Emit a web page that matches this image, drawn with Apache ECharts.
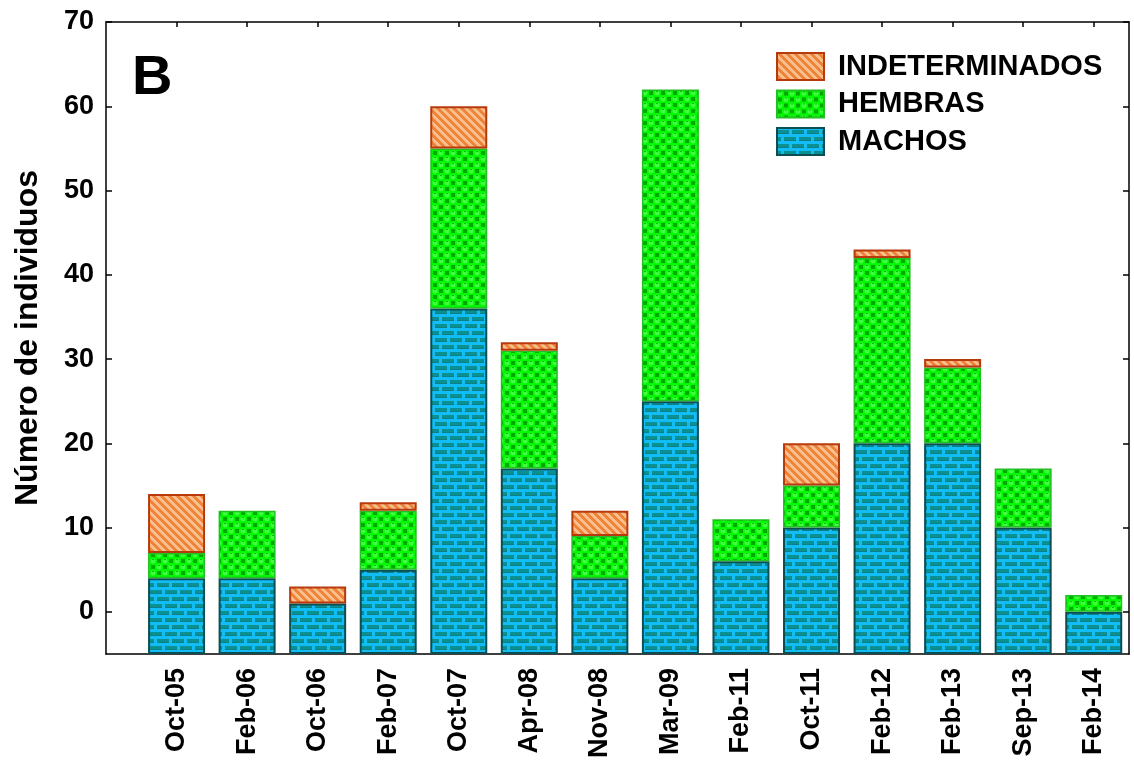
<!DOCTYPE html>
<html>
<head>
<meta charset="utf-8">
<script src="https://cdn.jsdelivr.net/npm/echarts@6/dist/echarts.min.js"></script>
<style>
  html, body { margin: 0; padding: 0; background: #fff; }
  #chart { width: 1134px; height: 763px; }
</style>
</head>
<body>
<div id="chart"></div>
<script>
// ---- data ----
const categories = ['Oct-05','Feb-06','Oct-06','Feb-07','Oct-07','Apr-08','Nov-08','Mar-09','Feb-11','Oct-11','Feb-12','Feb-13','Sep-13','Feb-14'];
const machos         = [4, 4, 1, 5, 36, 17, 4, 25, 6, 10, 20, 20, 10, 0];
const hembras        = [3, 8, 0, 7, 19, 14, 5, 37, 5, 5, 22, 9, 7, 2];
const indeterminados = [7, 0, 2, 1, 5, 1, 3, 0, 0, 5, 1, 1, 0, 0];
const yTickLabels = [0, 10, 20, 30, 40, 50, 60, 70];
const yAxisMin = -5;   // bars are drawn up from the bottom of the axis
const yAxisMax = 70;
const panelLabel = 'B';

// ---- fill patterns ----
function tile(w, h, draw) {
  const c = document.createElement('canvas');
  c.width = w; c.height = h;
  draw(c.getContext('2d'), w, h);
  return c;
}
const brickTile = tile(15, 14, (g) => {
  g.fillStyle = '#12BCF4'; g.fillRect(0, 0, 15, 14);
  g.fillStyle = '#0A9090';
  g.fillRect(0, 2, 12, 4);
  g.fillRect(7, 9, 8, 4); g.fillRect(0, 9, 4, 4);
  g.fillStyle = '#0C8088';
  g.fillRect(0, 5, 12, 1);
  g.fillRect(7, 12, 8, 1); g.fillRect(0, 12, 4, 1);
});
const greenTile = tile(12, 12, (g) => {
  g.fillStyle = '#00F800'; g.fillRect(0, 0, 12, 12);
  g.fillStyle = '#00A800';
  g.fillRect(7, 1, 4, 4); g.fillRect(1, 7, 4, 4);
  g.fillStyle = '#40FF40';
  g.beginPath(); g.arc(3, 3, 2.5, 0, Math.PI * 2); g.fill();
  g.beginPath(); g.arc(9, 9, 2.5, 0, Math.PI * 2); g.fill();
  g.fillStyle = '#00C400';
  g.fillRect(2, 1, 2, 1); g.fillRect(8, 7, 2, 1);
});
const stripeTile = tile(8, 8, (g) => {
  const img = g.createImageData(8, 8);
  for (let y = 0; y < 8; y++) for (let x = 0; x < 8; x++) {
    const k = ((x - y) % 8 + 8) % 8;
    const i = (y * 8 + x) * 4;
    const dark = k < 4;
    img.data[i] = dark ? 0xEE : 0xF8;
    img.data[i + 1] = dark ? 0x84 : 0xBE;
    img.data[i + 2] = dark ? 0x3A : 0x8E;
    img.data[i + 3] = 255;
  }
  g.putImageData(img, 0, 0);
});

// ---- category slots: half-step slots so the first bar sits one step in from the axis
//      and the axis ends half a step after the last bar ----
const slotsPerCat = 2;
const slotCount = (categories.length + 0.5) * slotsPerCat + 1;
const slots = [];
for (let i = 0; i < slotCount; i++) {
  const k = i / slotsPerCat - 1;
  slots.push(Number.isInteger(k) && k >= 0 && k < categories.length ? categories[k] : '');
}
const offset = -yAxisMin;
function toSlots(arr, shift, hideZero) {
  return slots.map((s) => {
    if (s === '') return '-';
    const v = arr[categories.indexOf(s)];
    return (hideZero && v === 0) ? '-' : v + shift;
  });
}
const isReal = (index, value) => value !== '';

const fontFam = '"Liberation Sans", Arial, sans-serif';
const chart = echarts.init(document.getElementById('chart'), null, { renderer: 'canvas' });
const yTickPos = yTickLabels.map(v => v + offset);
const axisLineStyle = { color: '#000', width: 1.5 };

const option = {
  animation: false,
  backgroundColor: '#ffffff',
  grid: { left: 106, right: 5, top: 22, bottom: 109, containLabel: false, outerBoundsMode: 'none' },
  legend: {
    orient: 'vertical',
    left: 776, top: 52, padding: 0,
    itemWidth: 47, itemHeight: 27, itemGap: 8.5,
    icon: 'rect',
    data: ['INDETERMINADOS', 'HEMBRAS', 'MACHOS'],
    textStyle: { fontFamily: fontFam, fontWeight: 'bold', fontSize: 29, lineHeight: 27, color: '#000', padding: [0, 0, 0, 9] }
  },
  graphic: [{
    type: 'text', left: 132, top: 51,
    style: { text: panelLabel, fontFamily: fontFam, fontWeight: 'bold', fontSize: 56, fill: '#000' }
  }],
  xAxis: [{
    type: 'category', data: slots, boundaryGap: false,
    splitLine: { show: false },
    axisLine: { show: true, onZero: false, lineStyle: axisLineStyle },
    axisTick: { show: true, inside: true, length: 5, interval: isReal, lineStyle: axisLineStyle },
    axisLabel: {
      show: true, interval: isReal, rotate: 90, margin: 14,
      fontFamily: fontFam, fontWeight: 'bold', fontSize: 27, color: '#000'
    }
  }, {
    type: 'category', data: slots, boundaryGap: false, position: 'top',
    splitLine: { show: false },
    axisLine: { show: true, onZero: false, lineStyle: axisLineStyle },
    axisTick: { show: true, inside: true, length: 5, interval: isReal, lineStyle: axisLineStyle },
    axisLabel: { show: false }
  }],
  yAxis: [{
    type: 'value', min: 0, max: yAxisMax + offset,
    name: 'Número de individuos', nameLocation: 'middle', nameGap: 62,
    nameTextStyle: { fontFamily: fontFam, fontWeight: 'bold', fontSize: 32, color: '#000' },
    splitLine: { show: false },
    axisLine: { show: true, onZero: false, lineStyle: axisLineStyle },
    axisTick: { show: true, inside: true, length: 6, customValues: yTickPos, lineStyle: axisLineStyle },
    axisLabel: {
      customValues: yTickPos, margin: 12,
      formatter: (v) => String(Math.round(v - offset)),
      fontFamily: fontFam, fontWeight: 'bold', fontSize: 27, color: '#000'
    }
  }, {
    type: 'value', position: 'right', min: 0, max: yAxisMax + offset,
    splitLine: { show: false },
    axisLine: { show: true, onZero: false, lineStyle: axisLineStyle },
    axisTick: { show: true, inside: true, length: 6, customValues: yTickPos, lineStyle: axisLineStyle },
    axisLabel: { show: false }
  }],
  series: [{
    name: 'MACHOS', type: 'bar', stack: 'total', barWidth: 57,
    xAxisIndex: 0, yAxisIndex: 0,
    itemStyle: { color: { image: brickTile, repeat: 'repeat' }, borderColor: '#0B4F55', borderWidth: 2 },
    data: toSlots(machos, offset, false)
  }, {
    name: 'HEMBRAS', type: 'bar', stack: 'total', barWidth: 57,
    xAxisIndex: 0, yAxisIndex: 0,
    itemStyle: { color: { image: greenTile, repeat: 'repeat' }, borderColor: '#22C022', borderWidth: 1.5 },
    data: toSlots(hembras, 0, true)
  }, {
    name: 'INDETERMINADOS', type: 'bar', stack: 'total', barWidth: 57,
    xAxisIndex: 0, yAxisIndex: 0,
    itemStyle: { color: { image: stripeTile, repeat: 'repeat' }, borderColor: '#B83A0C', borderWidth: 2 },
    data: toSlots(indeterminados, 0, true)
  }]
};
chart.setOption(option);
</script>
</body>
</html>
